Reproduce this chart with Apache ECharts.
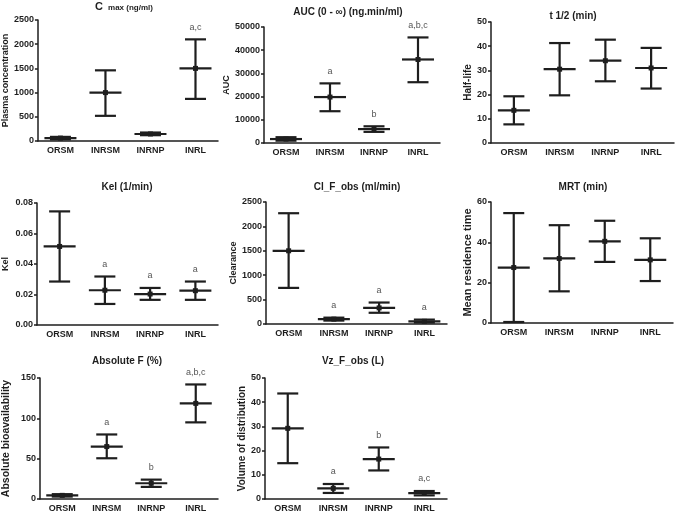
<!DOCTYPE html>
<html><head><meta charset="utf-8">
<script src="https://cdn.jsdelivr.net/npm/echarts@6/dist/echarts.min.js"></script>
<style>html,body{margin:0;padding:0;background:#fff}#c{width:677px;height:514px}</style>
</head><body><div id="c"></div>
<script>
// ---- data ----
const categories = ['ORSM', 'INRSM', 'INRNP', 'INRL'];

const cmaxMean = [60, 1000, 145, 1500];
const cmaxLow  = [35, 520, 120, 870];
const cmaxHigh = [85, 1460, 175, 2100];
const cmaxSig  = ['', '', '', 'a,c'];

const aucMean = [1700, 19800, 6000, 36000];
const aucLow  = [1000, 13700, 4800, 26200];
const aucHigh = [2500, 25700, 7200, 45500];
const aucSig  = ['', 'a', 'b', 'a,b,c'];

const thalfMean = [13.5, 30.5, 34, 31];
const thalfLow  = [7.7, 19.7, 25.5, 22.5];
const thalfHigh = [19.3, 41.3, 42.7, 39.3];
const thalfSig  = ['', '', '', ''];

const kelMean = [0.0515, 0.0228, 0.0203, 0.0225];
const kelLow  = [0.0285, 0.0138, 0.0165, 0.0165];
const kelHigh = [0.0745, 0.0318, 0.0243, 0.0285];
const kelSig  = ['', 'a', 'a', 'a'];

const clMean = [1500, 100, 330, 55];
const clLow  = [740, 70, 230, 30];
const clHigh = [2270, 130, 440, 90];
const clSig  = ['', 'a', 'a', 'a'];

const mrtMean = [27.5, 32, 40.5, 31.3];
const mrtLow  = [0.5, 15.7, 30.3, 20.8];
const mrtHigh = [54.5, 48.5, 50.7, 42];
const mrtSig  = ['', '', '', ''];

const fMean = [4.5, 65, 19.5, 118.5];
const fLow  = [3, 50.5, 15, 95];
const fHigh = [6, 80, 24, 142];
const fSig  = ['', 'a', 'b', 'a,b,c'];

const vzMean = [29.2, 4.4, 16.5, 2.4];
const vzLow  = [14.8, 2.5, 11.8, 1.5];
const vzHigh = [43.6, 6.2, 21.3, 3.3];
const vzSig  = ['', 'a', 'b', 'a,c'];

const titles = ['C max (ng/ml)', 'AUC (0 - \u221E) (ng.min/ml)', 't 1/2 (min)', 'Kel (1/min)',
                'Cl_F_obs (ml/min)', 'MRT (min)', 'Absolute F (%)', 'Vz_F_obs (L)'];
const yNames = ['Plasma concentration', 'AUC', 'Half-life', 'Kel', 'Clearance',
                'Mean residence time', 'Absolute bioavailability', 'Volume of distribution'];
const yMax = [2500, 50000, 50, 0.08, 2500, 60, 150, 50];
const yInterval = [500, 10000, 10, 0.02, 500, 20, 50, 10];

const panelData = [
  [cmaxMean, cmaxLow, cmaxHigh, cmaxSig],
  [aucMean, aucLow, aucHigh, aucSig],
  [thalfMean, thalfLow, thalfHigh, thalfSig],
  [kelMean, kelLow, kelHigh, kelSig],
  [clMean, clLow, clHigh, clSig],
  [mrtMean, mrtLow, mrtHigh, mrtSig],
  [fMean, fLow, fHigh, fSig],
  [vzMean, vzLow, vzHigh, vzSig]
];

// ---- layout ----
const layout = [
  {l: 37,  t: 20,  w: 181, h: 121, tx: 124, ty: -6,  ng: 27, nfs: 9},
  {l: 264, t: 27,  w: 176, h: 116, tx: 348, ty: 7,   ng: 26, nfs: 9},
  {l: 491, t: 22,  w: 183, h: 121, tx: 573, ty: 11,  ng: 15, nfs: 10},
  {l: 37,  t: 203, w: 181, h: 122, tx: 127, ty: 182, ng: 27, nfs: 9},
  {l: 266, t: 202, w: 181, h: 122, tx: 357, ty: 182, ng: 27, nfs: 9},
  {l: 491, t: 202, w: 182, h: 121, tx: 583, ty: 182, ng: 13, nfs: 11},
  {l: 37,  t: 378, w: 181, h: 121, tx: 127, ty: 356, ng: 28, nfs: 10.5},
  {l: 265, t: 378, w: 182, h: 121, tx: 353, ty: 356, ng: 18, nfs: 10}
];

const FONT = 'Liberation Sans, Arial, sans-serif';
const INK = '#1e1e1e';

const grid = [], xAxis = [], yAxis = [], title = [], series = [];
layout.forEach((L, i) => {
  grid.push({left: L.l, top: L.t, width: L.w, height: L.h, containLabel: false});
  xAxis.push({
    type: 'category', gridIndex: i, data: categories,
    axisLine: {lineStyle: {color: INK, width: 1.5}},
    axisTick: {show: false},
    axisLabel: {color: INK, fontFamily: FONT, fontWeight: 'bold', fontSize: 9, margin: 5, interval: 0}
  });
  const dec = i === 3 ? 2 : 0;
  yAxis.push({
    type: 'value', gridIndex: i, min: 0, max: yMax[i], interval: yInterval[i],
    name: yNames[i], nameLocation: 'middle', nameGap: L.ng,
    nameTextStyle: {color: INK, fontFamily: FONT, fontWeight: 'bold', fontSize: L.nfs},
    axisLine: {show: true, lineStyle: {color: INK, width: 1.5}},
    axisTick: {show: true, length: 3, lineStyle: {color: INK, width: 1.5}},
    splitLine: {show: false},
    axisLabel: {color: INK, fontFamily: FONT, fontWeight: 'bold', fontSize: 9, margin: 4,
      formatter: v => v.toFixed(dec)}
  });
  if (i === 0) {
    title.push({
      text: '{a|C} {b|max (ng/ml)}', left: L.tx, top: L.ty, textAlign: 'center', padding: 0,
      textStyle: {rich: {
        a: {fontFamily: FONT, fontWeight: 'bold', fontSize: 11, color: INK, verticalAlign: 'bottom', lineHeight: 13},
        b: {fontFamily: FONT, fontWeight: 'bold', fontSize: 8, color: INK, verticalAlign: 'bottom', lineHeight: 12}
      }}
    });
  } else {
    title.push({
      text: titles[i], left: L.tx, top: L.ty, textAlign: 'center', padding: 0,
      textStyle: {fontFamily: FONT, fontWeight: 'bold', fontSize: 10, color: INK}
    });
  }
  const [mean, low, high, sig] = panelData[i];
  const data = categories.map((c, k) => [k, mean[k], low[k], high[k]]);
  series.push({
    type: 'custom', xAxisIndex: i, yAxisIndex: i, data: data,
    encode: {x: 0, y: [1, 2, 3]},
    renderItem: function (params, api) {
      const k = api.value(0);
      const pm = api.coord([k, api.value(1)]);
      const pl = api.coord([k, api.value(2)]);
      const ph = api.coord([k, api.value(3)]);
      const st = {stroke: INK, lineWidth: 2.2};
      const cap = 10.5, mw = 16;
      const ch = [
        {type: 'line', shape: {x1: pm[0], y1: pl[1], x2: pm[0], y2: ph[1]}, style: st},
        {type: 'line', shape: {x1: pm[0] - cap, y1: pl[1], x2: pm[0] + cap, y2: pl[1]}, style: st},
        {type: 'line', shape: {x1: pm[0] - cap, y1: ph[1], x2: pm[0] + cap, y2: ph[1]}, style: st},
        {type: 'line', shape: {x1: pm[0] - mw, y1: pm[1], x2: pm[0] + mw, y2: pm[1]}, style: st},
        {type: 'rect', shape: {x: pm[0] - 2.5, y: pm[1] - 2.5, width: 5, height: 5}, style: {fill: INK}}
      ];
      const s = sig[params.dataIndex];
      if (s) {
        ch.push({type: 'text', x: pm[0], y: ph[1] - 12,
          style: {text: s, fill: '#555', font: '9px ' + FONT, textAlign: 'center', textVerticalAlign: 'middle'}});
      }
      return {type: 'group', children: ch};
    }
  });
});

const chart = echarts.init(document.getElementById('c'), null, {renderer: 'canvas'});
chart.setOption({animation: false, backgroundColor: '#fff', grid, xAxis, yAxis, title, series});
</script>
</body></html>
